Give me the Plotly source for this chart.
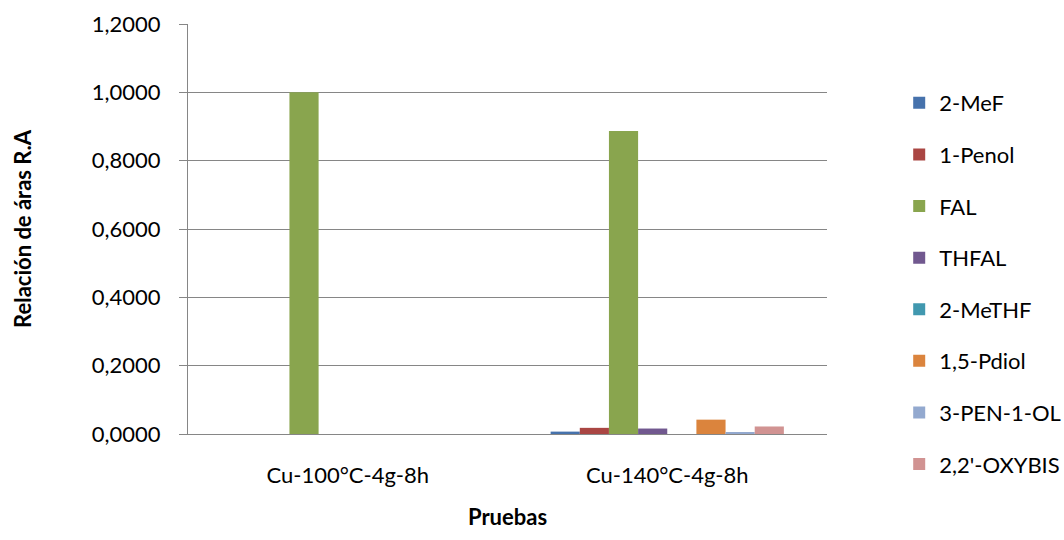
import plotly.graph_objects as go

# Test conditions (categories on the x axis)
pruebas = ["Cu-100°C-4g-8h", "Cu-140°C-4g-8h"]

# Area ratio per compound for each test
compuestos = ["2-MeF", "1-Penol", "FAL", "THFAL", "2-MeTHF", "1,5-Pdiol", "3-PEN-1-OL", "2,2'-OXYBIS"]
mef = [0.0, 0.007]
penol = [0.0, 0.018]
fal = [1.0, 0.887]
thfal = [0.0, 0.016]
methf = [0.0, 0.0]
pdiol = [0.0, 0.042]
pen_ol = [0.0, 0.005]
oxybis = [0.0, 0.022]

colores = ["#4672AC", "#AA4643", "#89A54E", "#71588F", "#4198AF", "#DB843D", "#93A9CF", "#D19392"]

y_ticks = [0.0, 0.2, 0.4, 0.6, 0.8, 1.0, 1.2]

series = [mef, penol, fal, thfal, methf, pdiol, pen_ol, oxybis]

fig = go.Figure()
for nombre, valores, color in zip(compuestos, series, colores):
    fig.add_trace(go.Bar(
        name=nombre, x=pruebas, y=valores,
        marker=dict(color=color, line=dict(width=0)),
        legendgroup=nombre,
    ))

font_family = "Lato, Carlito, Calibri, sans-serif"
fs = 22

fig.update_layout(
    width=1064, height=540,
    margin=dict(l=188, r=237, t=24, b=106, autoexpand=False),
    paper_bgcolor="white", plot_bgcolor="white",
    barmode="group", bargap=0.27, bargroupgap=0,
    separators=",.",
    font=dict(family=font_family, size=fs, color="#000000"),
    showlegend=True,
    legend=dict(
        x=1.113, xanchor="left", y=0.367, yanchor="middle",
        font=dict(size=fs), tracegroupgap=20,
        traceorder="grouped", itemwidth=30,
        bgcolor="rgba(0,0,0,0)",
    ),
    xaxis=dict(
        showline=True, linecolor="#868686", linewidth=1,
        ticks="", showgrid=False,
        tickfont=dict(size=fs), ticklabelstandoff=22,
        title=dict(text="<b>Pruebas</b>", font=dict(size=fs), standoff=22),
    ),
    yaxis=dict(
        range=[0, 1.2], tickvals=y_ticks, tickformat=".4f",
        showline=True, linecolor="#868686", linewidth=1,
        ticks="outside", ticklen=8, tickcolor="#868686",
        ticklabelstandoff=14,
        showgrid=True, gridcolor="#868686", gridwidth=1,
        zeroline=False,
        tickfont=dict(size=fs),
        title=dict(text="<b>Relación de áras R.A</b>", font=dict(size=fs), standoff=54),
    ),
)

fig.write_html("out.html")
